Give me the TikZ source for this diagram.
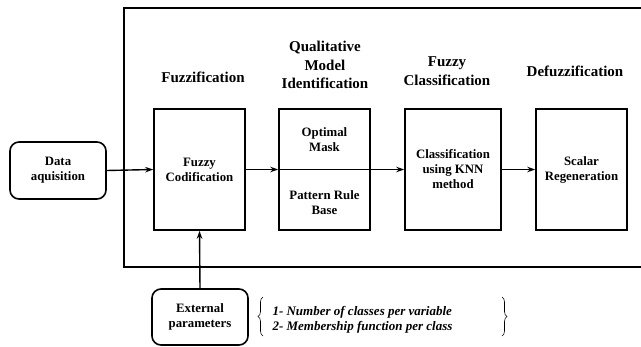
\documentclass[tikz,border=0pt]{standalone}
\usepackage{fontspec}
\setmainfont{Liberation Serif}
\usetikzlibrary{arrows.meta,decorations.pathreplacing}
\begin{document}
\begin{tikzpicture}[x=1pt,y=-1pt,
  box/.style={draw,line width=1.6pt,minimum width=#1,minimum height=121pt,inner sep=0pt},
  rbox/.style={draw,line width=1.6pt,rounded corners=9pt,minimum width=96pt,minimum height=57pt,inner sep=0pt,align=center,font=\fontsize{12.8}{15}\selectfont\bfseries},
  btxt/.style={align=center,font=\fontsize{12.8}{15}\selectfont\bfseries},
  ttl/.style={align=center,font=\fontsize{15}{18.5}\selectfont\bfseries},
  arr/.style={line width=1.4pt,-{Stealth[length=8pt,width=5.5pt]}},
  brc/.style={decorate,decoration={brace,amplitude=5pt},line width=0.6pt}]
\useasboundingbox (0,0) rectangle (641,346);
% outer frame
\coordinate (otr) at (641,8);
\coordinate (otl) at (124,8);
\coordinate (obl) at (124,267);
\coordinate (obr) at (641,267);
\draw[line width=1.6pt] (otr) -- (otl) -- (obl) -- (obr);
% titles
\node[ttl] (t1) at (203,77) {Fuzzification};
\node[ttl] (t2) at (325,65) {Qualitative\\Model\\Identification};
\node[ttl] (t3) at (447,71) {Fuzzy\\Classification};
\node[ttl] (t4) at (575,71) {Defuzzification};
% boxes
\node[rbox] (data) at (58,170.5) {Data\\aquisition};
\node[box=91pt,btxt] (fc) at (199.5,169.5) {Fuzzy\\Codification};
\node[box=91pt] (qm) at (324.5,169.5) {};
\node[btxt] (om) at (324.5,139.5) {Optimal\\Mask};
\node[btxt] (pr) at (324.5,202.5) {Pattern Rule\\Base};
\node[box=96pt,btxt] (cl) at (453,169.5) {Classification\\using KNN\\method};
\node[box=91pt,btxt] (sr) at (581.5,169.5) {Scalar\\Regeneration};
\node[rbox,minimum height=56pt] (ext) at (200,317) {External\\parameters};
% connectors
\draw[arr] (data.east) -- (fc.west);
\draw[arr] (fc.east) -- (qm.west);
\draw[line width=1.4pt] (qm.west) -- (qm.east);
\draw[arr] (qm.east) -- (cl.west);
\draw[arr] (cl.east) -- (sr.west);
\draw[arr] (ext.north) -- (fc.south);
% list with braces
\node[anchor=west,align=left,font=\fontsize{13}{14.5}\selectfont\bfseries\itshape] (lst) at (269,320) {1- Number of classes per variable\\2- Membership function per class};
\coordinate (lb1) at (263,336);
\coordinate (lb2) at (263,297);
\coordinate (rb1) at (502,297);
\coordinate (rb2) at (502,336);
\draw[brc] (lb1) -- (lb2);
\draw[brc] (rb1) -- (rb2);
\end{tikzpicture}
\end{document}
